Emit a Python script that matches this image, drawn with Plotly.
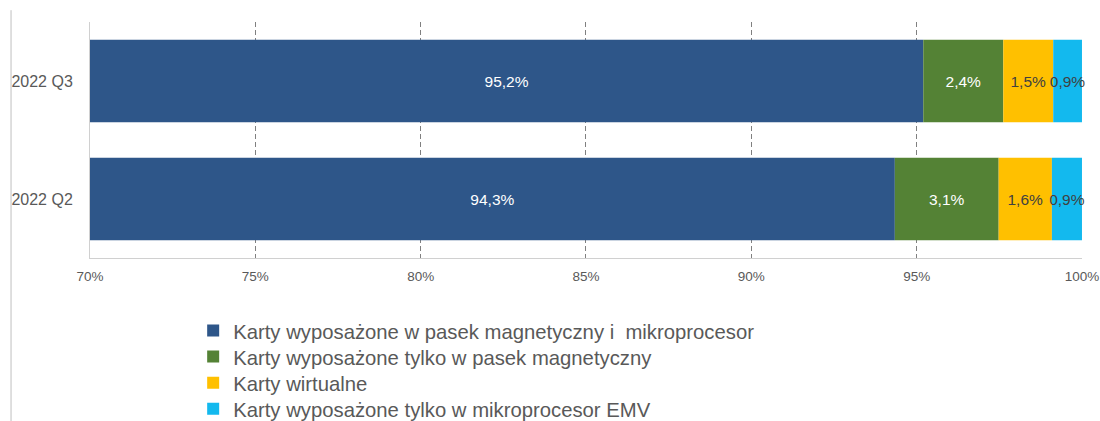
import plotly.graph_objects as go

categories = ["2022 Q2", "2022 Q3"]
series_names = [
    "Karty wyposażone w pasek magnetyczny i  mikroprocesor",
    "Karty wyposażone tylko w pasek magnetyczny",
    "Karty wirtualne",
    "Karty wyposażone tylko w mikroprocesor EMV",
]
chip_and_stripe = [94.34, 95.20]
stripe_only = [3.14, 2.42]
virtual = [1.61, 1.51]
emv_only = [0.91, 0.87]
tick_values = [70, 75, 80, 85, 90, 95, 100]
tick_labels = ["70%", "75%", "80%", "85%", "90%", "95%", "100%"]
axis_min = 70

series_values = [chip_and_stripe, stripe_only, virtual, emv_only]
colors = ["#2E5689", "#548235", "#FFC000", "#13B9EE"]
text_colors = ["#FFFFFF", "#FFFFFF", "#404040", "#404040"]
legend_ids = ["legend", "legend2", "legend3", "legend4"]
legend_rows_y = [-0.309, -0.419, -0.530, -0.640]

fig = go.Figure()
cum = [0.0] * len(categories)
for i, (name, vals, col, tcol) in enumerate(zip(series_names, series_values, colors, text_colors)):
    # first segment is drawn from the axis minimum so its label centres in the visible part
    if i == 0:
        base = [axis_min] * len(vals)
        widths = [round(v - axis_min, 6) for v in vals]
    else:
        base = [round(c, 6) for c in cum]
        widths = list(vals)
    cum = [round(c + v, 6) for c, v in zip(cum, vals)]
    fig.add_trace(go.Bar(
        y=categories, x=widths, base=base, name=name, orientation="h",
        customdata=vals, legend=legend_ids[i],
        marker=dict(color=col, line=dict(width=0)),
        texttemplate="%{customdata:.1f}%", textposition="inside",
        insidetextanchor="middle", textangle=0,
        textfont=dict(color=tcol, size=15.5, family="Liberation Sans, Arial, sans-serif"),
        constraintext="none", cliponaxis=False,
    ))

legend_layout = {}
for lid, ly in zip(legend_ids, legend_rows_y):
    legend_layout[lid] = dict(orientation="v", x=0.104, xanchor="left", y=ly, yanchor="middle",
                              font=dict(size=20.3, color="#595959"), itemwidth=30,
                              bgcolor="rgba(0,0,0,0)")

fig.update_layout(
    barmode="overlay", bargap=0.3,
    width=1100, height=421,
    margin=dict(l=90, r=18, t=22, b=163, autoexpand=False),
    paper_bgcolor="white", plot_bgcolor="white",
    separators=", ",
    font=dict(family="Liberation Sans, Arial, sans-serif", color="#595959"),
    uniformtext=dict(mode="show", minsize=15.5),
    xaxis=dict(range=[70, 100.0005], tickmode="array", tickvals=tick_values, ticktext=tick_labels,
               showgrid=True, gridcolor="#808080", griddash="5px,3px", gridwidth=1,
               zeroline=False, showline=True, linecolor="#D0D0D0", linewidth=1,
               tickfont=dict(size=13.5, color="#595959"), ticks="", ticklabelstandoff=6,
               automargin=False),
    yaxis=dict(categoryorder="array", categoryarray=categories,
               showline=True, linecolor="#D0D0D0", linewidth=1,
               tickfont=dict(size=16, color="#595959"), ticks="",
               ticklabelstandoff=13, automargin=False),
    showlegend=True,
    **legend_layout,
)

fig.add_shape(type="line", xref="paper", yref="paper",
              x0=-0.0796, x1=-0.0796, y0=-0.7, y1=1.05,
              line=dict(color="#BFBFBF", width=1))

fig.write_html("out.html", config={"displayModeBar": False},
               post_script="document.body.style.margin='0';document.body.style.overflow='hidden';")
